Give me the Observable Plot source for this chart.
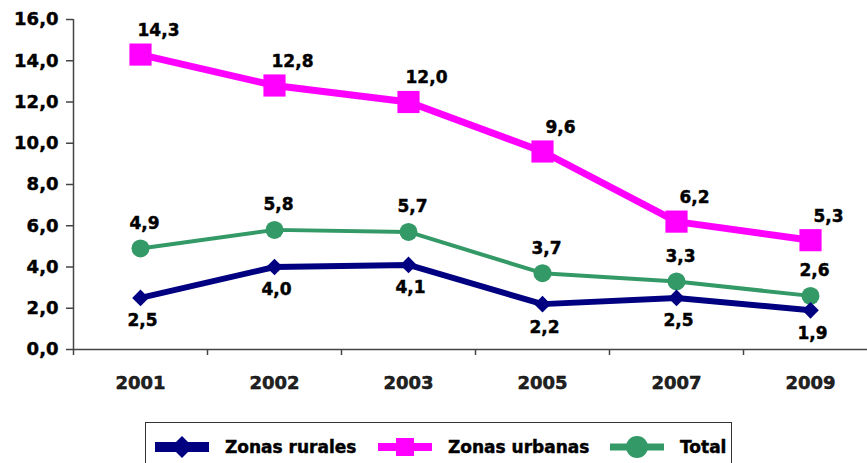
<!DOCTYPE html>
<html>
<head>
<meta charset="utf-8">
<script src="https://cdn.jsdelivr.net/npm/d3@7"></script>
<script src="https://cdn.jsdelivr.net/npm/@observablehq/plot@0.6"></script>
<style>
  body { margin: 0; background: #fff; font-family: "DejaVu Sans", sans-serif; }
  #wrap { position: relative; width: 867px; height: 463px; overflow: hidden; }
  #chart svg text { stroke: currentColor; stroke-width: 0.45px; }
  #legend {
    position: absolute; left: 145px; top: 422px; width: 587px; height: 50px;
    border: 1px solid #333; box-sizing: border-box; background: #fff;
    font-weight: bold; font-size: 17px; color: #000; -webkit-text-stroke: 0.45px #000;
  }
  .item { position: absolute; top: 12px; display: flex; align-items: center; height: 24px; }
  .item svg { margin-right: 16px; }
</style>
</head>
<body>
<div id="wrap"><div id="chart"></div><div id="legend"></div></div>
<script>
const years = ["2001", "2002", "2003", "2005", "2007", "2009"];
const rurales = [2.5, 4.0, 4.1, 2.2, 2.5, 1.9];
const urbanas = [14.3, 12.8, 12.0, 9.6, 6.2, 5.3];
const total = [4.9, 5.8, 5.7, 3.7, 3.3, 2.6];
const yTicks = [0, 2, 4, 6, 8, 10, 12, 14, 16];
const seriesNames = ["Zonas rurales", "Zonas urbanas", "Total"];
const seriesColors = ["#000080", "#ff00ff", "#339966"];

const fmt = v => v.toFixed(1).replace(".", ",");
const rows = vals => years.map((yr, i) => ({i, year: yr, v: vals[i]}));
const dR = rows(rurales), dU = rows(urbanas), dT = rows(total);
const bounds = d3.range(years.length + 1).map(k => k - 0.5);

const chart = Plot.plot({
  width: 867, height: 410,
  marginLeft: 73, marginRight: 0, marginTop: 19, marginBottom: 61,
  style: {fontFamily: "DejaVu Sans", fontWeight: "bold", fontSize: "18px", color: "#000", background: "white", overflow: "visible"},
  x: {domain: [bounds[0], bounds[bounds.length - 1]], range: [73, 877], label: null},
  y: {domain: [0, 16], label: null},
  marks: [
    Plot.axisY({ticks: yTicks, tickFormat: fmt, tickSize: 7, tickPadding: 8, fontSize: 18, stroke: "#444", strokeWidth: 1.5}),
    Plot.ruleX([bounds[0]], {y1: 0, y2: 16, stroke: "#444", strokeWidth: 1.5}),
    Plot.ruleY([0], {stroke: "#444", strokeWidth: 1.5}),
    Plot.axisX({ticks: bounds, tickFormat: () => "", tickSize: 6, stroke: "#444", strokeWidth: 1.5}),
    Plot.axisX({ticks: d3.range(years.length), tickFormat: i => years[i], tickSize: 0, tickPadding: 27, fontSize: 18, fill: "#222"}),
    Plot.line(dT, {x: "i", y: "v", stroke: seriesColors[2], strokeWidth: 4}),
    Plot.line(dR, {x: "i", y: "v", stroke: seriesColors[0], strokeWidth: 6}),
    Plot.line(dU, {x: "i", y: "v", stroke: seriesColors[1], strokeWidth: 7}),
    Plot.dot(dT, {x: "i", y: "v", r: 9, fill: seriesColors[2], stroke: null}),
    Plot.dot(dR, {x: "i", y: "v", r: 7.5, symbol: "diamond2", fill: seriesColors[0], stroke: null}),
    Plot.dot(dU, {x: "i", y: "v", r: 12.5, symbol: "square", fill: seriesColors[1], stroke: null}),
    Plot.text(dU, {x: "i", y: "v", text: d => fmt(d.v), dx: 18, dy: -24, fontSize: 17, fill: "#000"}),
    Plot.text(dT, {x: "i", y: "v", text: d => fmt(d.v), dx: 4, dy: -25, fontSize: 17, fill: "#000"}),
    Plot.text(dR, {x: "i", y: "v", text: d => fmt(d.v), dx: 2, dy: 23, fontSize: 17, fill: "#000"})
  ]
});
document.getElementById("chart").appendChild(chart);

// Legend
const legend = document.getElementById("legend");
const lefts = [9, 232, 464];
const markers = [
  c => `<polygon points="27,1 38,12 27,23 16,12" fill="${c}"/>`,
  c => `<rect x="18" y="3" width="18" height="18" fill="${c}"/>`,
  c => `<circle cx="27" cy="12" r="11" fill="${c}"/>`
];
const lw = [10, 8, 7];
seriesNames.forEach((name, k) => {
  const el = document.createElement("div");
  el.className = "item";
  el.style.left = lefts[k] + "px";
  el.innerHTML = `<svg width="54" height="24"><line x1="0" y1="12" x2="54" y2="12" stroke="${seriesColors[k]}" stroke-width="${lw[k]}"/>${markers[k](seriesColors[k])}</svg><span>${name}</span>`;
  legend.appendChild(el);
});
</script>
</body>
</html>
